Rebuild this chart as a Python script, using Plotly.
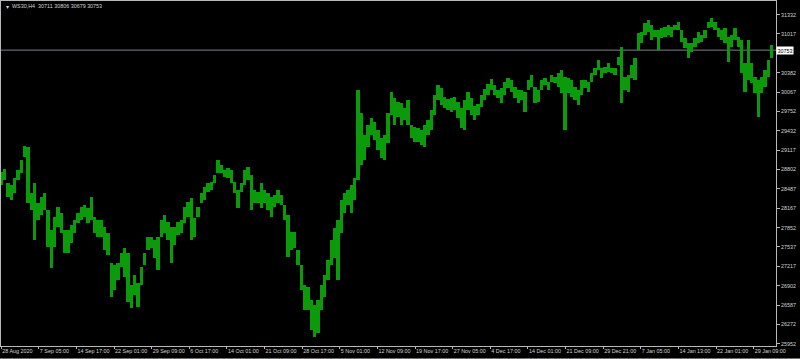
import plotly.graph_objects as go

# ---- data (high / low per column) ----
high = [
    28762, 28811, 28582, 28549, 28663, 28794, 28958, 29186, 29170, 28418,
    28582, 28255, 28353, 28418, 28141, 27814, 28026, 28190, 28092, 27814,
    27814, 27895, 27977, 28092, 28190, 28222, 28173, 28353, 28026, 27977,
    27977, 27863, 27765, 27275, 27242, 27275, 27438, 27520, 27438,
    26915, 27078, 26948, 27209, 27438, 27699, 27699, 27650, 27699, 27977,
    28059, 27945, 27863, 27863, 27945, 27977, 28190, 28271, 28337, 28010,
    28190, 28418, 28516, 28582, 28598, 28712, 28958, 28876, 28794, 28827,
    28794, 28598, 28467, 28582, 28794, 28843, 28712, 28467, 28435,
    28582, 28467, 28418, 28353, 28386, 28467, 28386, 28222, 28059, 27781,
    27781, 27487, 27242, 26915, 26882, 26670, 26588, 26670, 26915, 27078,
    27324, 27650, 27846, 27977, 28304, 28418, 28467, 28549, 28663, 30101,
    29726, 29366, 29529, 29644, 29579, 29448, 29317, 29366, 29726,
    30069, 29971, 29905, 29889, 29807, 29938, 29529, 29497, 29480, 29448,
    29529, 29611, 29775, 30020, 30183, 30134, 29987, 29954, 29971, 29987,
    29905, 29807, 29938, 30069, 29971, 29840, 29873, 30020, 30118, 30199,
    30281, 30183, 30101, 30134, 30232, 30297, 30265, 30150, 30101,
    30101, 30069, 30265, 30346, 30150, 30101, 30265, 30297, 30232, 30346,
    30314, 30379, 30428, 30314, 30297, 30265, 30150, 30101, 30265, 30265,
    30232, 30379, 30461, 30592, 30461, 30477, 30543, 30461, 30461, 30641,
    30804, 30314, 30346, 30510, 30624, 31033, 31049, 31196, 31245,
    31164, 31082, 31082, 31114, 31131, 31164, 31131, 31164, 31213, 31082,
    30951, 30869, 30869, 30951, 31049, 31000, 31082, 31213, 31278, 31213,
    31114, 31082, 31114, 30967, 31000, 31114, 30967, 30918, 30543, 30918,
    30543, 30314, 30265, 30314, 30428, 30592, 30837,
]
low = [
    28549, 28631, 28353, 28304, 28418, 28631, 28745, 29007, 28255, 28141,
    27650, 27977, 28059, 28141, 27536, 27193, 27536, 27863, 27765, 27438,
    27438, 27601, 27765, 27928, 27977, 28026, 27928, 27977, 27765, 27699,
    27699, 27487, 27405, 26719, 26833, 26997, 27209, 27046, 26637,
    26539, 26752, 26556, 26915, 27242, 27487, 27520, 27356, 27160, 27699,
    27765, 27650, 27275, 27569, 27732, 27765, 27928, 28026, 27650, 27699,
    28026, 28255, 28304, 28435, 28467, 28582, 28745, 28745, 28680, 28663,
    28582, 28418, 28173, 28435, 28549, 28631, 28141, 28255, 28255,
    28173, 28255, 28141, 28026, 28190, 28255, 28222, 27977, 27373, 27487,
    27520, 27242, 26833, 26507, 26507, 26180, 26065, 26131, 26507, 26719,
    26997, 27242, 27356, 26997, 27765, 28092, 28222, 28092, 28304, 28631,
    28876, 28958, 29170, 29366, 29284, 29121, 28990, 28958, 29235,
    29693, 29529, 29660, 29529, 29611, 29529, 29317, 29252, 29252, 29203,
    29170, 29366, 29448, 29693, 29938, 29856, 29807, 29775, 29742, 29775,
    29644, 29480, 29448, 29775, 29693, 29611, 29693, 29824, 29938, 30020,
    30101, 30020, 29971, 29889, 30020, 30134, 30069, 29971, 29889,
    29938, 29742, 30101, 30150, 29889, 29905, 30101, 30183, 30101, 30232,
    30216, 30150, 30052, 29448, 30052, 29987, 29938, 29856, 30020, 30134,
    30069, 30232, 30346, 30428, 30297, 30379, 30396, 30379, 30346, 30510,
    29889, 30101, 30069, 30297, 30265, 30755, 30869, 31000, 31049,
    30918, 30967, 30755, 30951, 30967, 31000, 30967, 31082, 31082, 30886,
    30788, 30624, 30722, 30804, 30869, 30886, 30951, 31114, 31131, 31082,
    30967, 30918, 30869, 30559, 30804, 30918, 30804, 30379, 30069, 30265,
    30216, 30052, 29660, 30052, 30150, 30314, 30624,
]

x_labels = [
    "28 Aug 2020", "7 Sep 05:00", "14 Sep 17:00", "22 Sep 01:00", "29 Sep 09:00",
    "6 Oct 17:00", "14 Oct 01:00", "21 Oct 09:00", "28 Oct 17:00", "5 Nov 01:00",
    "12 Nov 09:00", "19 Nov 17:00", "27 Nov 05:00", "4 Dec 17:00", "14 Dec 01:00",
    "21 Dec 09:00", "29 Dec 21:00", "7 Jan 05:00", "14 Jan 13:00", "22 Jan 01:00",
    "29 Jan 09:00",
]
y_ticks = [25952, 26272, 26587, 26902, 27217, 27537, 27852, 28167, 28487,
           28802, 29117, 29432, 29752, 30067, 30382, 30697, 31017, 31332]
last_price = 30753
header = "WS30,H4  30711 30806 30679 30753"

# ---- layout helpers ----
n = len(high)
idx = list(range(n))
label_step = 11.28          # columns between time labels
label_pos = [0.01 + label_step * j for j in range(len(x_labels))]
# the tick hidden behind the current-price box carries no visible label
y_text = ["" if abs(v - last_price) < 100 else str(v) for v in y_ticks]

GREEN = "#0a9a0a"
TXT = "#d4d4d4"
FRAME = "#b8b8b8"
FONT = "Liberation Sans"
FS = 5.4

fig = go.Figure()
fig.add_trace(go.Bar(
    x=idx,
    y=[h - l for h, l in zip(high, low)],
    base=low,
    width=1.0,
    marker=dict(color=GREEN, line=dict(width=0)),
    hoverinfo="skip",
    showlegend=False,
))

fig.add_hline(y=last_price, line=dict(color="#7a838c", width=1), layer="below")

fig.update_layout(
    width=800, height=359,
    margin=dict(l=1, r=24, t=1, b=13, autoexpand=False),
    paper_bgcolor="black", plot_bgcolor="black",
    font=dict(family=FONT, size=FS, color=TXT),
    showlegend=False,
    bargap=0,
    xaxis=dict(
        range=[-0.05, 232.3],
        tickvals=label_pos, ticktext=x_labels,
        tickangle=0, automargin=False,
        ticks="outside", ticklen=2, tickcolor=FRAME, tickwidth=1,
        ticklabelposition="outside right",
        tickfont=dict(family=FONT, size=FS, color=TXT),
        showgrid=False, zeroline=False,
        showline=True, linecolor=FRAME, linewidth=1, mirror=True,
        fixedrange=True,
    ),
    yaxis=dict(
        side="right",
        range=[25918, 31556],
        tickvals=y_ticks, ticktext=y_text,
        automargin=False,
        ticks="outside", ticklen=3, tickcolor=FRAME, tickwidth=1,
        tickfont=dict(family=FONT, size=FS, color=TXT),
        showgrid=False, zeroline=False,
        showline=True, linecolor=FRAME, linewidth=1, mirror=True,
        fixedrange=True,
    ),
)

# header text (symbol, timeframe, OHLC)
fig.add_annotation(
    xref="paper", yref="paper", x=0.012, y=0.985,
    xanchor="left", yanchor="middle", showarrow=False,
    text=header, font=dict(family=FONT, size=FS, color=TXT),
)
fig.add_annotation(
    xref="paper", yref="paper", x=0.004, y=0.985,
    xanchor="left", yanchor="middle", showarrow=False,
    text="\u25BE", font=dict(family="DejaVu Sans", size=6, color=TXT),
)

# current price label on the right axis
fig.add_annotation(
    xref="paper", yref="y", x=1.0, y=last_price,
    xanchor="left", yanchor="middle", showarrow=False,
    text=str(last_price), bgcolor="white", borderpad=0.5,
    font=dict(family=FONT, size=FS, color="black"),
)

# window bottom edge
fig.add_shape(type="line", xref="paper", yref="paper",
              x0=-0.01, x1=1.04, y0=-0.0365, y1=-0.0365,
              line=dict(color="#7a7a7a", width=1))

fig.write_html("out.html", config={"displayModeBar": False})
